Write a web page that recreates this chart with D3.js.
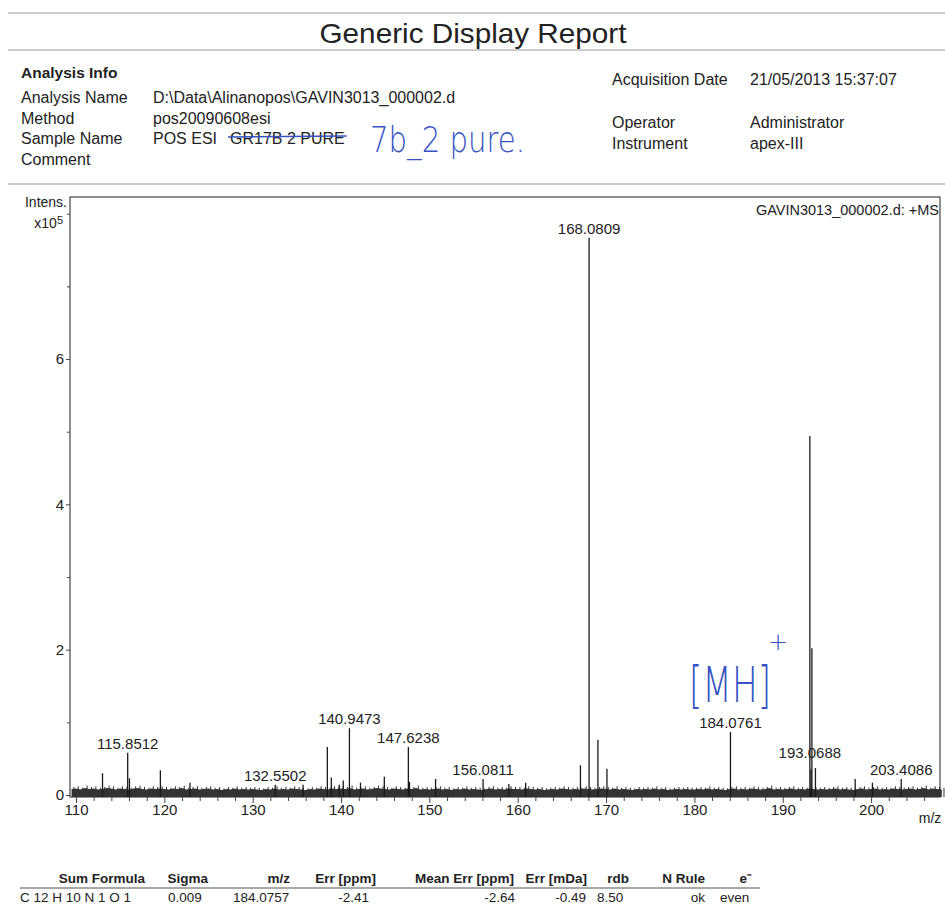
<!DOCTYPE html>
<html lang="en">
<head>
<meta charset="UTF-8">
<title>Generic Display Report</title>
<script src="https://d3js.org/d3.v7.min.js"></script>
<style>
    body { margin: 0; background: #fff; }
    svg { display: block; font-family: "Liberation Sans", Arial, sans-serif; }
    .hdr { font-size: 16px; fill: #222; }
    .tick text { font-size: 15px; fill: #222; }
    .peak-label { font-size: 15px; fill: #222; text-anchor: middle; }
    .pen { fill: #3553c4; font-family: "DejaVu Sans", sans-serif; font-weight: 200; }
    .tbl { font-size: 13.5px; fill: #222; }
</style>
</head>
<body>
<svg id="chart" width="945" height="909"></svg>
<script>
// report header
const title = "Generic Display Report";
const infoLeft = [
    ["Analysis Name", "D:\\Data\\Alinanopos\\GAVIN3013_000002.d"],
    ["Method", "pos20090608esi"],
    ["Sample Name", "POS ESI"],
    ["Comment", ""]
];
const infoRight = [
    ["Acquisition Date", "21/05/2013 15:37:07"],
    ["Operator", "Administrator"],
    ["Instrument", "apex-III"]
];

// spectrum: m/z and intensity (x10^5)
const peakMz = [113.0, 115.85, 116.05, 119.55, 122.9, 132.55, 135.7, 138.45, 138.9, 139.8, 140.25, 140.95,
    142.2, 144.9, 147.62, 147.75, 150.7, 156.08, 159.0, 160.9, 167.1, 168.08, 169.08, 170.1,
    184.08, 193.07, 193.2, 193.3, 193.7, 198.2, 200.15, 203.41];
const peakInt = [0.30, 0.58, 0.23, 0.34, 0.17, 0.14, 0.14, 0.66, 0.24, 0.14, 0.20, 0.92,
    0.17, 0.25, 0.66, 0.18, 0.22, 0.22, 0.15, 0.17, 0.41, 7.67, 0.76, 0.36,
    0.87, 4.94, 0.35, 2.02, 0.37, 0.22, 0.17, 0.22];

// labelled peaks; labelAt = intensity level the label sits on
const labelText = ["115.8512", "132.5502", "140.9473", "147.6238", "156.0811", "168.0809", "184.0761", "193.0688", "203.4086"];
const labelMz = [115.85, 132.55, 140.95, 147.62, 156.08, 168.08, 184.08, 193.07, 203.41];
const labelAt = [0.58, 0.14, 0.92, 0.66, 0.22, 7.67, 0.87, 0.45, 0.22];

// noise floor, every 0.5 m/z from 109.5 (x0.01 x10^5)
const noiseStart = 109.5;
const noise = [11,12,10,13,11,12,10,11,13,12,10,12,11,10,12,13,11,10,12,11,12,
    11,10,12,11,13,10,11,12,10,11,12,10,11,9,11,10,12,10,11,10,
    11,10,9,11,10,12,10,11,10,12,11,10,9,11,10,12,11,10,12,11,
    12,11,13,10,11,12,10,11,13,12,11,10,12,11,10,12,11,13,10,11,
    10,11,12,10,11,9,11,10,12,10,11,10,9,11,12,10,11,10,12,11,
    11,10,12,11,10,11,9,10,11,10,12,11,10,11,10,12,11,10,11,12,
    11,10,12,10,11,10,9,11,10,11,10,12,10,11,9,10,11,10,11,10,
    10,11,10,12,10,11,10,9,11,12,10,11,10,12,11,10,11,13,10,11,
    10,11,12,10,11,10,12,11,10,11,10,11,12,10,11,10,9,11,12,10,
    11,12,10,11,10,12,11,10,11,12,10,11,13,10,12,11,10];

const xMajor = [110, 120, 130, 140, 150, 160, 170, 180, 190, 200];
const yMajor = [0, 2, 4, 6];

// formula table
const tblHead = ["Sum Formula", "Sigma", "m/z", "Err [ppm]", "Mean Err [ppm]", "Err [mDa]", "rdb", "N Rule", "e\u207B"];
const tblRow = ["C 12 H 10 N 1 O 1", "0.009", "184.0757", "-2.41", "-2.64", "-0.49", "8.50", "ok", "even"];

const svg = d3.select("#chart");
svg.append("rect").attr("width", 945).attr("height", 909).attr("fill", "#fff");

// ---- header ----
const rule = (y, x1, x2) => svg.append("line").attr("x1", x1).attr("x2", x2)
    .attr("y1", y).attr("y2", y).attr("stroke", "#999").attr("stroke-width", 1);
rule(13, 8, 945);
rule(50, 8, 945);
rule(184, 8, 945);

svg.append("text").attr("x", 473).attr("y", 43).attr("text-anchor", "middle")
    .style("font-size", "28.5px").attr("fill", "#222")
    .attr("textLength", 307).attr("lengthAdjust", "spacingAndGlyphs").text(title);

svg.append("text").attr("class", "hdr").attr("x", 21).attr("y", 78)
    .style("font-weight", "bold").style("font-size", "15.5px").text("Analysis Info");

infoLeft.forEach((d, i) => {
    const y = 103 + i * 20.7;
    svg.append("text").attr("class", "hdr").attr("x", 21).attr("y", y).text(d[0]);
    svg.append("text").attr("class", "hdr").attr("x", 153).attr("y", y).text(d[1]);
});
// crossed-out sample text
const crossed = svg.append("text").attr("class", "hdr").attr("x", 230).attr("y", 144.4).text("GR17B 2 PURE");
const cw = crossed.node().getComputedTextLength();
svg.append("line").attr("x1", 228).attr("x2", 232 + cw).attr("y1", 137).attr("y2", 136)
    .attr("stroke", "#3553c4").attr("stroke-width", 1.6);

const rightY = [85, 128, 149];
infoRight.forEach((d, i) => {
    svg.append("text").attr("class", "hdr").attr("x", 612).attr("y", rightY[i]).text(d[0]);
    svg.append("text").attr("class", "hdr").attr("x", 750).attr("y", rightY[i]).text(d[1]);
});

// handwriting
svg.append("text").attr("class", "pen").attr("x", 370).attr("y", 152)
    .style("font-size", "36px").attr("textLength", 155).attr("lengthAdjust", "spacingAndGlyphs")
    .text("7b_2 pure.");

// ---- spectrum ----
const x = d3.scaleLinear().domain([109.32, 207.8]).range([70, 940]);
const y = d3.scaleLinear().domain([0, 8.23]).range([795, 197]);

// frame
svg.append("rect").attr("x", 70).attr("y", 197).attr("width", 870).attr("height", 600)
    .attr("fill", "none").attr("stroke", "#444").attr("stroke-width", 1.2);

// noise band
const noisePts = noise.map((v, i) => [noiseStart + i * 0.5, v / 100]);
svg.append("path").datum(noisePts)
    .attr("d", d3.area().x(d => x(d[0])).y0(y(0) + 2).y1(d => y(d[1] * 0.75)))
    .attr("fill", "#333");
svg.append("g").selectAll("line").data(noisePts).join("line")
    .attr("x1", d => x(d[0] + 0.25)).attr("x2", d => x(d[0] + 0.25))
    .attr("y1", y(0) + 2).attr("y2", d => y(d[1]))
    .attr("stroke", "#333").attr("stroke-width", 1);

// peaks
svg.append("g").selectAll("line").data(peakMz).join("line")
    .attr("x1", d => x(d)).attr("x2", d => x(d))
    .attr("y1", y(0) + 2).attr("y2", (d, i) => y(peakInt[i]))
    .attr("stroke", "#1a1a1a").attr("stroke-width", 1.3);

// peak labels
svg.append("g").selectAll("text").data(labelText).join("text")
    .attr("class", "peak-label")
    .attr("x", (d, i) => x(labelMz[i]))
    .attr("y", (d, i) => y(labelAt[i]) - 4)
    .text(d => d);

// axes
svg.append("g").attr("transform", "translate(0,797)")
    .call(d3.axisBottom(x).tickValues(xMajor).tickSize(6).tickPadding(1).tickFormat(d3.format("d")));
svg.append("g").attr("transform", "translate(0,797)")
    .call(d3.axisBottom(x).tickValues(d3.range(112, 208, 2).filter(v => v % 10 !== 0)).tickSize(4).tickFormat(""));

svg.append("g").attr("transform", "translate(70,0)")
    .call(d3.axisLeft(y).tickValues(yMajor).tickSize(4).tickPadding(2).tickFormat(d3.format("d")));
svg.append("g").attr("transform", "translate(70,0)")
    .call(d3.axisLeft(y).tickValues([1, 3, 5, 7, 8]).tickSize(3).tickFormat(""));

svg.selectAll(".domain").remove();
svg.selectAll(".tick line").attr("stroke", "#444");

// axis titles
svg.append("text").attr("x", 67).attr("y", 207).attr("text-anchor", "end")
    .style("font-size", "14px").attr("fill", "#222").text("Intens.");
const xt = svg.append("text").attr("x", 63).attr("y", 228).attr("text-anchor", "end")
    .style("font-size", "14px").attr("fill", "#222");
xt.append("tspan").text("x10");
xt.append("tspan").attr("dy", -4).style("font-size", "11px").text("5");

svg.append("text").attr("x", 939).attr("y", 215).attr("text-anchor", "end")
    .style("font-size", "14.5px").attr("fill", "#222").text("GAVIN3013_000002.d: +MS");
svg.append("text").attr("x", 930).attr("y", 823).attr("text-anchor", "middle")
    .style("font-size", "14px").attr("fill", "#222").text("m/z");

// handwritten annotation near the MH+ peak
svg.append("text").attr("class", "pen").attr("x", 689).attr("y", 702)
    .style("font-size", "50px").attr("textLength", 82).attr("lengthAdjust", "spacingAndGlyphs").text("[MH]");
svg.append("text").attr("class", "pen").attr("x", 768).attr("y", 650)
    .style("font-size", "24px").text("+");

// ---- formula table ----
const colRight = [145, 208, 290, 376, 514, 587, 629, 705, 752];
tblHead.forEach((t, i) => {
    svg.append("text").attr("class", "tbl").attr("x", colRight[i]).attr("y", 883)
        .attr("text-anchor", "end").style("font-weight", "bold").text(t);
});
svg.append("line").attr("x1", 20).attr("x2", 760).attr("y1", 888).attr("y2", 888)
    .attr("stroke", "#555").attr("stroke-width", 1);
const rowX = [20, 168, 233, 369, 515, 586, 597, 705, 720];
const rowAnchor = ["start", "start", "start", "end", "end", "end", "start", "end", "start"];
tblRow.forEach((t, i) => {
    svg.append("text").attr("class", "tbl").attr("x", rowX[i]).attr("y", 902)
        .attr("text-anchor", rowAnchor[i]).text(t);
});
</script>
</body>
</html>
